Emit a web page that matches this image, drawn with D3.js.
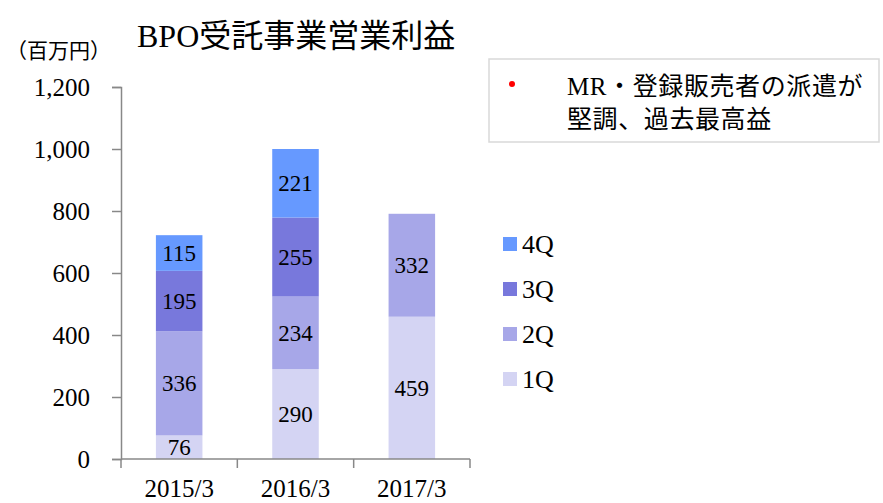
<!DOCTYPE html>
<html>
<head>
<meta charset="utf-8" />
<title>BPO受託事業営業利益</title>
<script src="https://cdn.jsdelivr.net/npm/d3@7"></script>
<style>
  body { margin: 0; background: #fff; }
  svg text { font-family: "Liberation Serif", "Times New Roman", serif; fill: #000; }
  .jp { font-family: "Noto Sans CJK JP", sans-serif; }
</style>
</head>
<body>
<div id="chart"></div>
<script>
// データ
var years = ["2015/3", "2016/3", "2017/3"];
var quarters = ["1Q", "2Q", "3Q", "4Q"];
var q1 = [76, 290, 459];
var q2 = [336, 234, 332];
var q3 = [195, 255, null];
var q4 = [115, 221, null];
var yTicks = [0, 200, 400, 600, 800, 1000, 1200];
var colors = ["#d4d4f3", "#a7a7e8", "#7878dc", "#6699ff"];

var W = 883, H = 503;
var svg = d3.select("#chart").append("svg").attr("width", W).attr("height", H);

var x = d3.scaleBand().domain(years).range([121, 470]).paddingInner(0.6).paddingOuter(0.3);
var y = d3.scaleLinear().domain([0, 1200]).range([459, 87]);
var color = d3.scaleOrdinal().domain(quarters).range(colors);

// stack用のテーブル
var table = years.map(function (yr, i) {
  return { year: yr, "1Q": q1[i] || 0, "2Q": q2[i] || 0, "3Q": q3[i] || 0, "4Q": q4[i] || 0 };
});
var series = d3.stack().keys(quarters)(table);

// 棒
var g = svg.append("g");
series.forEach(function (s) {
  var segs = s.filter(function (d) { return d[1] > d[0]; });
  g.selectAll(null).data(segs)
    .enter().append("rect")
    .attr("x", function (d) { return x(d.data.year); })
    .attr("width", x.bandwidth())
    .attr("y", function (d) { return y(d[1]); })
    .attr("height", function (d) { return y(d[0]) - y(d[1]); })
    .attr("fill", color(s.key));

  g.selectAll(null).data(segs)
    .enter().append("text")
    .attr("x", function (d) { return x(d.data.year) + x.bandwidth() / 2; })
    .attr("y", function (d) { return (y(d[0]) + y(d[1])) / 2 + 8; })
    .attr("text-anchor", "middle")
    .style("font-size", "23px")
    .text(function (d) { return d[1] - d[0]; });
});

// Y軸
var yAxis = svg.append("g").attr("transform", "translate(121,0)")
  .call(d3.axisLeft(y).tickValues(yTicks).tickSize(9).tickPadding(22).tickFormat(d3.format(",")));
yAxis.selectAll("text").style("font-size", "25px").attr("dy", "0.35em");

// X軸
var xAxis = svg.append("g").attr("transform", "translate(0,459)")
  .call(d3.axisBottom(x).tickSize(0).tickPadding(20));
xAxis.select(".domain").remove();
xAxis.selectAll("text").style("font-size", "25px");
svg.append("line").attr("x1", 121).attr("x2", 470).attr("y1", 459).attr("y2", 459);
var edges = [121].concat(years.map(function (d) { return x(d) + x.bandwidth() / 2 + x.step() / 2; }));
svg.selectAll(null).data(edges).enter().append("line")
  .attr("x1", function (d) { return d; }).attr("x2", function (d) { return d; })
  .attr("y1", 459).attr("y2", 468);

svg.selectAll(".domain, .tick line, line").attr("stroke", "#888").attr("stroke-width", 1.5);

// タイトル
svg.append("text").attr("x", 137).attr("y", 47).style("font-size", "32px")
  .html('BPO<tspan class="jp">受託事業営業利益</tspan>');
svg.append("text").attr("class", "jp").attr("x", 6).attr("y", 58).style("font-size", "21px")
  .text("（百万円）");

// 凡例
var legend = svg.append("g");
quarters.slice().reverse().forEach(function (q, i) {
  var cy = 244 + i * 45;
  legend.append("rect").attr("x", 503).attr("y", cy - 7).attr("width", 14).attr("height", 14)
    .attr("fill", color(q));
  legend.append("text").attr("x", 522).attr("y", cy + 9).style("font-size", "26px").text(q);
});

// コメント枠
svg.append("rect").attr("x", 489).attr("y", 59).attr("width", 390).attr("height", 83)
  .attr("fill", "#fff").attr("stroke", "#d9d9d9").attr("stroke-width", 1.5);
svg.append("circle").attr("cx", 512).attr("cy", 84).attr("r", 3).attr("fill", "#ff0000");
svg.append("text").attr("x", 567).attr("y", 95).style("font-size", "25px")
  .style("letter-spacing", "0.6px")
  .html('MR<tspan class="jp">・登録販売者の派遣が</tspan>');
svg.append("text").attr("class", "jp").attr("x", 567).attr("y", 128).style("font-size", "25px")
  .style("letter-spacing", "0.6px")
  .text("堅調、過去最高益");
</script>
</body>
</html>
